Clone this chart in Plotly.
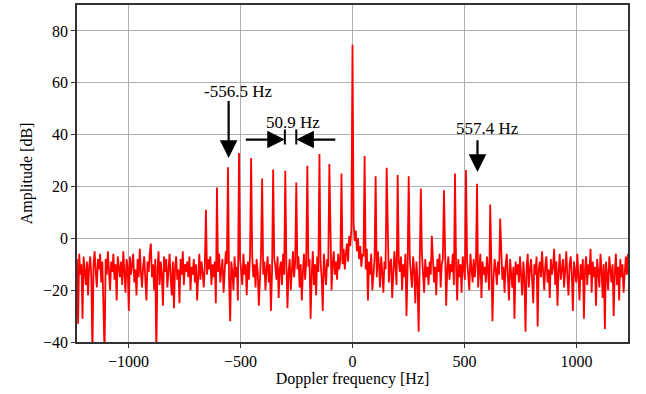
import numpy as np
import plotly.graph_objects as go

# Frequency grid (Hz)
f_start = -1230.0
f_step = 4.92

# Noise floor amplitude samples [dB] (20 per row, ~98 Hz per row)
noise_db = [
    -8, -33, -6, -14, -10, -31, -7, -12, -18, -9, -22, -11, -7, -15, -45, -10, -5, -13, -19, -8,
    -12, -6, -17, -9, -23, -45, -8, -14, -5, -11, -20, -9, -13, -6, -16, -10, -24, -7, -12, -15,
    -9, -18, -5, -13, -21, -8, -11, -28, -7, -14, -10, -6, -17, -12, -22, -8, -15, -4, -13, -19,
    -11, -7, -16, -24, -9, -13, -6, -2, -15, -10, -20, -8, -45, -12, -5, -18, -9, -14, -26, -7,
    -13, -8, -19, -10, -6, -15, -22, -9, -27, -11, -7, -16, -12, -25, -8, -14, -5, -18, -10, -13,
    -9, -15, -7, -20, -11, -14, -8, -17, -10, -24, -12, -6, -16, -9, -13, -19, -11, -8, -14, -8,
    -12, -7, -18, -10, -15, -9, -25, -8, -13, -6, -17, -11, -8, -21, -14, -5, -10, -9, -16, -32,
    -9, -13, -20, -7, -15, -11, -24, -8, -8, -12, -18, -6, -14, -10, -22, -9, -16, -7, -12, -7,
    -15, -10, -19, -8, -13, -26, -11, -6, -9, -14, -9, -20, -12, -7, -17, -10, -28, -13, -8, -8,
    -11, -16, -7, -23, -12, -9, -18, -6, -14, -9, -10, -27, -13, -8, -20, -11, -5, -15, -9, -8,
    -12, -7, -19, -10, -24, -13, -6, -16, -9, -8, -11, -8, -31, -14, -5, -18, -10, -22, -7, -13,
    -9, -9, -15, -28, -6, -12, -18, -8, -11, -7, -7, -20, -10, -5, -14, -9, -16, -6, -12, -8,
    -7, -10, -4, -12, -6, -2, -9, 1, -3, 4, 2, 6, -1, 3, -5, 0, -8, -3, -11, -6,
    -7, -5, -12, -4, -24, -9, -14, -6, -20, -11, -8, -6, -15, -5, -10, -19, -7, -13, -21, -9,
    -12, -8, -6, -17, -10, -8, -23, -14, -5, -11, -18, -9, -9, -13, -7, -20, -10, -15, -6, -30,
    -11, -8, -8, -14, -19, -7, -12, -25, -9, -16, -36, -10, -9, -6, -13, -21, -8, -15, -11, -18,
    -9, -14, -7, -7, -17, -11, -22, -8, -13, -6, -19, -10, -8, -15, -9, -26, -12, -7, -16, -10,
    -13, -6, -18, -9, -11, -24, -8, -15, -10, -21, -7, -12, -16, -8, -9, -14, -20, -6, -11, -17,
    -8, -15, -10, -9, -19, -12, -6, -23, -9, -14, -11, -17, -7, -13, -20, -8, -10, -32, -15, -8,
    -12, -18, -9, -14, -8, -7, -16, -11, -21, -10, -6, -15, -24, -8, -13, -19, -11, -31, -9, -14,
    -10, -17, -7, -13, -22, -9, -15, -36, -11, -6, -19, -12, -8, -16, -25, -10, -14, -7, -34, -12,
    -9, -15, -5, -13, -20, -10, -7, -17, -12, -23, -8, -14, -11, -4, -18, -9, -26, -13, -6, -16,
    -11, -8, -19, -13, -5, -15, -22, -10, -7, -14, -28, -9, -12, -17, -6, -13, -24, -10, -16, -8,
    -31, -12, -7, -18, -10, -14, -4, -21, -9, -15, -11, -26, -8, -13, -19, -6, -12, -23, -10, -35,
    -9, -14, -20, -7, -12, -17, -10, -30, -13, -6, -18, -11, -24, -8, -15, -10, -21, -12, -7, -14, -6,
]

# Doppler line components (Hz, dB)
peak_freqs = [-655, -605, -555, -506, -455, -403, -354, -302, -251, -202, -149, -103, -50,
              0, 52, 101, 153, 204, 253, 305, 355, 406, 457, 506, 558, 616, 661]
peak_db = [11, 19.6, 27.4, 32.9, 31, 23.1, 26.5, 26.1, 21.5, 28, 32.5, 28.7, 25,
           74.7, 31.7, 23.9, 27.2, 24.4, 23.9, 19.2, 1, 18.5, 25, 26.3, 21, 13, 7.6]

x_ticks = [-1000, -500, 0, 500, 1000]
y_ticks = [-40, -20, 0, 20, 40, 60, 80]

freq = f_start + f_step * np.arange(len(noise_db))
amp = np.array(noise_db, dtype=float)
for pf, pa in zip(peak_freqs, peak_db):
    idx = int(np.argmin(np.abs(freq - pf)))
    amp[idx] = pa

FONT = "Liberation Serif"
FS = 16

fig = go.Figure()
fig.add_trace(go.Scatter(x=freq, y=amp, mode="lines",
                         line=dict(color="#ff0000", width=1.8), showlegend=False))

# Annotations
arrow_kw = dict(showarrow=True, arrowhead=2, arrowsize=1.6, arrowwidth=2.2, arrowcolor="black",
                axref="x", ayref="y", xref="x", yref="y", text="")
fig.add_annotation(x=-553, y=31, ax=-553, ay=53.5, **arrow_kw)
fig.add_annotation(x=558, y=25.6, ax=558, ay=38.4, **arrow_kw)
fig.add_annotation(x=peak_freqs[7], y=38.1, ax=-483, ay=38.1, **arrow_kw)
fig.add_annotation(x=peak_freqs[8], y=38.1, ax=-70, ay=38.1, **arrow_kw)

for fx in (peak_freqs[7], peak_freqs[8]):
    fig.add_shape(type="line", x0=fx, x1=fx, y0=36.2, y1=42, xref="x", yref="y",
                  line=dict(color="black", width=2))

txt_kw = dict(showarrow=False, xref="x", yref="y", font=dict(family=FONT, size=17, color="black"))
fig.add_annotation(x=-510, y=56.6, text="-556.5 Hz", **txt_kw)
fig.add_annotation(x=-267, y=44.5, text="50.9 Hz", **txt_kw)
fig.add_annotation(x=603, y=42.3, text="557.4 Hz", **txt_kw)

axis_common = dict(showgrid=True, gridcolor="#b0b0b0", gridwidth=1, zeroline=False,
                   showline=True, linecolor="#333333", linewidth=1.5, mirror=True,
                   ticks="outside", ticklen=4, tickcolor="#333333",
                   tickfont=dict(family=FONT, size=FS, color="black"))

fig.update_xaxes(range=[-1230, 1230], tickvals=x_ticks,
                 title=dict(text="Doppler frequency [Hz]", font=dict(family=FONT, size=FS, color="black"),
                            standoff=2),
                 **axis_common)
fig.update_yaxes(range=[-40, 90], tickvals=y_ticks,
                 title=dict(text="Amplitude [dB]", font=dict(family=FONT, size=FS, color="black"),
                            standoff=6),
                 **axis_common)

fig.update_layout(width=646, height=394, margin=dict(l=77, r=18, t=3, b=52),
                  plot_bgcolor="white", paper_bgcolor="white",
                  font=dict(family=FONT, size=FS, color="black"))

fig.write_html("out.html", config={"displayModeBar": False},
               post_script="document.body.style.margin='0';")
